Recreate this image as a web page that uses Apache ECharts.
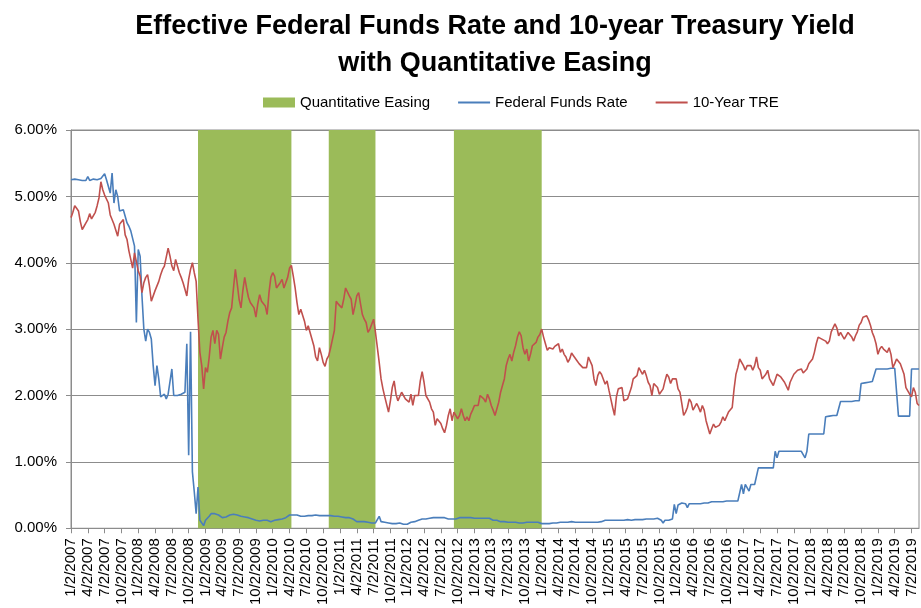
<!DOCTYPE html>
<html>
<head>
<meta charset="utf-8">
<script src="https://cdn.jsdelivr.net/npm/echarts@6/dist/echarts.min.js"></script>
<style>
html,body{margin:0;padding:0;background:#fff;overflow:hidden;}
#chart{width:921px;height:608px;}
</style>
</head>
<body>
<div id="chart"></div>
<script>
// Sample dates: the 2nd, 12th and 22nd of each month, 1/2/2007 .. 8/12/2019
const sampleDays = [2, 12, 22];
const firstYear = 2007, lastYear = 2019, lastMonth = 8, lastDay = 12;
const categories = [];
for (let y = firstYear; y <= lastYear; y++) {
  for (let m = 1; m <= 12; m++) {
    for (const d of sampleDays) {
      if (y === lastYear && (m > lastMonth || (m === lastMonth && d > lastDay))) continue;
      categories.push(m + '/' + d + '/' + y);
    }
  }
}

// Quantitative easing periods [start, end]
const qePeriods = [
  ['11/22/2008', '4/12/2010'],
  ['11/2/2010', '7/12/2011'],
  ['9/12/2012', '1/2/2014']
];

// 10-Year Treasury yield (%)
const tenYear = [
  // 2007
  4.68,4.76,4.86, 4.82,4.78,4.62, 4.50,4.55,4.60, 4.65,4.74,4.66, 4.64,4.76,4.86, 4.98,5.22,5.10,
  5.02,5.05,4.90, 4.72,4.75,4.58, 4.55,4.40,4.58, 4.60,4.65,4.42, 4.35,4.18,4.05, 3.92,4.15,4.12,
  // 2008
  3.88,3.80,3.55, 3.70,3.78,3.82, 3.65,3.42,3.40, 3.58,3.55,3.72, 3.82,3.90,3.95, 3.98,4.22,4.10,
  3.95,3.88,4.05, 4.02,3.85,3.78, 3.70,3.60,3.50, 3.75,3.90,4.00, 3.85,3.72,3.15, 2.65,2.45,2.10,
  // 2009
  2.42,2.35,2.58, 2.88,2.98,2.78, 2.98,2.92,2.55, 2.72,2.88,2.95, 3.12,3.25,3.32, 3.62,3.90,3.68,
  3.45,3.32,3.58, 3.78,3.62,3.48, 3.40,3.42,3.32, 3.18,3.38,3.52, 3.42,3.45,3.35, 3.22,3.55,3.78,
  // 2010
  3.85,3.80,3.62, 3.60,3.70,3.75, 3.62,3.70,3.78, 3.92,3.96,3.80, 3.62,3.40,3.22, 3.30,3.28,3.12,
  2.98,3.05,2.95, 2.92,2.75,2.58, 2.52,2.72,2.62, 2.50,2.44,2.55, 2.60,2.72,2.85, 2.98,3.42,3.38,
  // 2011
  3.35,3.32,3.45, 3.62,3.65,3.50, 3.45,3.22,3.35, 3.50,3.55,3.38, 3.22,3.15,3.10, 2.95,3.00,2.98,
  3.15,2.95,2.98, 2.50,2.25,2.10, 1.98,1.95,1.75, 1.92,2.12,2.22, 2.02,1.92,1.95, 2.05,2.00,1.95,
  // 2012
  1.92,1.90,2.02, 1.85,2.00,2.02, 2.00,2.22,2.36, 2.20,2.00,1.98, 1.90,1.80,1.75, 1.55,1.65,1.62,
  1.58,1.50,1.44, 1.55,1.70,1.80, 1.62,1.75,1.75, 1.65,1.70,1.80, 1.70,1.62,1.68, 1.62,1.72,1.78,
  // 2013
  1.85,1.88,1.85, 2.00,2.02,1.95, 1.90,2.02,1.95, 1.85,1.78,1.70, 1.68,1.90,2.05, 2.15,2.25,2.45,
  2.55,2.62,2.52, 2.65,2.75,2.88, 2.96,2.90,2.72, 2.62,2.70,2.52, 2.62,2.75,2.72, 2.80,2.88,2.92,
  // 2014
  3.00,2.88,2.78, 2.68,2.72,2.75, 2.70,2.74,2.72, 2.78,2.65,2.70, 2.62,2.58,2.50, 2.55,2.64,2.60,
  2.62,2.52,2.48, 2.45,2.42,2.40, 2.42,2.58,2.60, 2.45,2.25,2.15, 2.30,2.36,2.32, 2.30,2.17,2.22,
  // 2015
  2.08,1.95,1.82, 1.70,1.98,2.10, 2.08,2.12,1.92, 1.90,1.95,1.92, 2.12,2.25,2.22, 2.30,2.42,2.40,
  2.32,2.38,2.30, 2.20,2.15,2.00, 2.18,2.20,2.12, 2.02,2.05,2.10, 2.22,2.32,2.28, 2.18,2.25,2.25,
  // 2016
  2.25,2.10,2.05, 1.88,1.70,1.75, 1.82,1.95,1.90, 1.78,1.75,1.88, 1.82,1.75,1.85, 1.78,1.62,1.65,
  1.42,1.50,1.57, 1.52,1.55,1.55, 1.60,1.68,1.62, 1.60,1.75,1.75, 1.82,2.10,2.32, 2.42,2.55,2.55,
  // 2017
  2.45,2.38,2.45, 2.48,2.45,2.38, 2.45,2.58,2.42, 2.38,2.25,2.25, 2.32,2.38,2.25, 2.20,2.15,2.15,
  2.32,2.35,2.28, 2.28,2.20,2.20, 2.08,2.20,2.26, 2.32,2.35,2.38, 2.35,2.40,2.34, 2.36,2.40,2.48,
  // 2018
  2.46,2.55,2.65, 2.78,2.88,2.90, 2.85,2.84,2.82, 2.78,2.82,2.96, 2.95,3.08,3.02, 2.90,2.95,2.90,
  2.85,2.85,2.95, 2.98,2.88,2.82, 2.90,2.96,3.06, 3.10,3.18,3.17, 3.20,3.14,3.06, 2.95,2.88,2.78,
  // 2019
  2.62,2.70,2.74, 2.70,2.68,2.65, 2.72,2.62,2.42, 2.48,2.55,2.56, 2.48,2.40,2.32, 2.12,2.10,2.02,
  1.98,2.12,2.05, 1.88,1.85
];

// Effective Federal Funds Rate (%)
const fedFunds = [
  // 2007
  5.25,5.24,5.26, 5.26,5.25,5.28, 5.24,5.27,5.24, 5.30,5.24,5.25, 5.26,5.24,5.25, 5.24,5.27,5.26,
  5.34,5.25,5.26, 5.05,5.35,4.90, 5.10,5.00,4.78, 4.75,4.80,4.70, 4.60,4.55,4.48, 4.45,4.25,3.10,
  // 2008
  4.20,4.10,3.50, 3.00,2.82,3.00, 2.95,2.85,2.45, 2.15,2.45,2.25, 1.98,2.00,2.02, 1.95,2.02,2.00,
  2.40,2.00,1.98, 2.00,1.98,2.02, 2.00,2.05,2.78, 1.10,2.96,0.85, 0.55,0.22,0.62, 0.12,0.10,0.04,
  // 2009
  0.12,0.15,0.18, 0.22,0.24,0.22, 0.19,0.20,0.18, 0.16,0.18,0.17, 0.18,0.20,0.18, 0.21,0.24,0.20,
  0.17,0.18,0.16, 0.17,0.15,0.16, 0.15,0.14,0.13, 0.12,0.12,0.11, 0.12,0.12,0.13, 0.12,0.11,0.10,
  // 2010
  0.11,0.12,0.12, 0.13,0.13,0.14, 0.16,0.16,0.17, 0.20,0.20,0.20, 0.20,0.20,0.19, 0.18,0.19,0.18,
  0.18,0.19,0.20, 0.19,0.19,0.20, 0.20,0.19,0.20, 0.19,0.19,0.19, 0.19,0.19,0.20, 0.18,0.19,0.18,
  // 2011
  0.17,0.17,0.16, 0.16,0.15,0.16, 0.14,0.14,0.13, 0.10,0.10,0.10, 0.09,0.10,0.09, 0.09,0.09,0.08,
  0.07,0.08,0.10, 0.18,0.10,0.10, 0.09,0.09,0.08, 0.08,0.07,0.07, 0.07,0.08,0.08, 0.07,0.06,0.04,
  // 2012
  0.06,0.08,0.09, 0.10,0.10,0.11, 0.12,0.13,0.14, 0.14,0.14,0.15, 0.15,0.16,0.16, 0.16,0.16,0.17,
  0.16,0.15,0.16, 0.13,0.14,0.13, 0.14,0.15,0.14, 0.16,0.16,0.16, 0.16,0.17,0.16, 0.15,0.16,0.16,
  // 2013
  0.15,0.15,0.15, 0.15,0.15,0.16, 0.15,0.14,0.15, 0.15,0.12,0.14, 0.12,0.10,0.10, 0.09,0.10,0.09,
  0.09,0.09,0.09, 0.08,0.09,0.08, 0.08,0.08,0.08, 0.09,0.09,0.10, 0.09,0.09,0.09, 0.09,0.09,0.08,
  // 2014
  0.07,0.07,0.07, 0.07,0.07,0.06, 0.08,0.08,0.08, 0.09,0.09,0.09, 0.09,0.09,0.09, 0.10,0.10,0.10,
  0.09,0.09,0.09, 0.09,0.09,0.09, 0.09,0.09,0.09, 0.09,0.09,0.09, 0.09,0.09,0.10, 0.12,0.12,0.13,
  // 2015
  0.12,0.11,0.12, 0.12,0.12,0.12, 0.12,0.11,0.12, 0.13,0.13,0.13, 0.12,0.13,0.13, 0.13,0.13,0.14,
  0.13,0.14,0.14, 0.14,0.14,0.15, 0.14,0.14,0.15, 0.13,0.12,0.08, 0.12,0.12,0.12, 0.12,0.14,0.36,
  // 2016
  0.22,0.35,0.37, 0.38,0.37,0.37, 0.31,0.37,0.37, 0.37,0.37,0.37, 0.37,0.37,0.37, 0.38,0.38,0.38,
  0.40,0.40,0.40, 0.40,0.40,0.40, 0.40,0.40,0.40, 0.41,0.41,0.41, 0.41,0.41,0.41, 0.41,0.41,0.66,
  // 2017
  0.52,0.66,0.66, 0.56,0.66,0.66, 0.66,0.66,0.91, 0.91,0.91,0.91, 0.91,0.91,0.91, 0.91,0.91,1.16,
  1.06,1.16,1.16, 1.16,1.16,1.16, 1.16,1.16,1.16, 1.16,1.16,1.16, 1.16,1.16,1.16, 1.06,1.16,1.42,
  // 2018
  1.42,1.42,1.42, 1.42,1.42,1.42, 1.42,1.42,1.68, 1.69,1.69,1.69, 1.70,1.70,1.70, 1.70,1.91,1.91,
  1.91,1.91,1.91, 1.91,1.91,1.91, 1.92,1.92,1.92, 2.18,2.18,2.19, 2.20,2.20,2.20, 2.21,2.20,2.40,
  // 2019
  2.40,2.40,2.40, 2.40,2.40,2.40, 2.41,2.41,2.41, 2.41,2.41,1.69, 1.69,1.69,1.69, 1.69,1.69,1.69,
  2.40,2.40,2.40, 2.40,2.40
];

const yTicks = [0, 1, 2, 3, 4, 5, 6];
const titleLines = ['Effective Federal Funds Rate and 10-year Treasury Yield', 'with Quantitative Easing'];
const seriesNames = ['Quantitative Easing', 'Federal Funds Rate', '10-Year TRE'];

const chart = echarts.init(document.getElementById('chart'));
const axisGray = '#8c8c8c';
const fontFam = '"Liberation Sans", Arial, sans-serif';

chart.setOption({
  animation: false,
  backgroundColor: '#ffffff',
  graphic: [
    { type: 'text', x: 495, y: 27, silent: true,
      style: { text: titleLines[0], fill: '#000', font: 'bold 27px ' + fontFam, textAlign: 'center', textVerticalAlign: 'middle' } },
    { type: 'text', x: 495, y: 64, silent: true,
      style: { text: titleLines[1], fill: '#000', font: 'bold 27px ' + fontFam, textAlign: 'center', textVerticalAlign: 'middle' } }
  ],
  legend: {
    left: 263, top: 95, padding: 0,
    itemWidth: 32, itemHeight: 10, itemGap: 27,
    textStyle: { fontFamily: fontFam, fontSize: 15, color: '#000' },
    data: [
      { name: seriesNames[0], icon: 'rect' },
      { name: seriesNames[1], itemStyle: { opacity: 0 } },
      { name: seriesNames[2], itemStyle: { opacity: 0 } }
    ]
  },
  grid: { left: 71, right: 2, top: 130, bottom: 74, containLabel: false,
          show: true, borderColor: axisGray, borderWidth: 1 },
  xAxis: {
    type: 'category',
    data: categories,
    boundaryGap: false,
    axisLine: { lineStyle: { color: axisGray, width: 1 } },
    axisTick: { show: true, interval: 8, length: 5, lineStyle: { color: axisGray } },
    axisLabel: { interval: 8, rotate: 90, margin: 10, color: '#000',
                 fontFamily: fontFam, fontSize: 15 },
    splitLine: { show: false }
  },
  yAxis: {
    type: 'value',
    min: yTicks[0], max: yTicks[yTicks.length - 1], interval: 1,
    axisLine: { show: true, lineStyle: { color: axisGray, width: 1 } },
    axisTick: { show: true, length: 5, lineStyle: { color: axisGray } },
    axisLabel: { margin: 14, color: '#000', fontFamily: fontFam, fontSize: 15,
                 formatter: v => v.toFixed(2) + '%' },
    splitLine: { show: true, lineStyle: { color: axisGray, width: 1 } }
  },
  series: [
    {
      name: seriesNames[0], type: 'line', data: [], symbol: 'none',
      color: '#9BBB59', itemStyle: { color: '#9BBB59' }, lineStyle: { color: '#9BBB59' },
      markArea: {
        silent: true,
        itemStyle: { color: '#9BBB59', opacity: 1 },
        data: qePeriods.map(p => [{ xAxis: p[0] }, { xAxis: p[1] }])
      },
      z: 1
    },
    {
      name: seriesNames[1], type: 'line', data: fedFunds, symbol: 'none',
      color: '#4A7EBB', lineStyle: { color: '#4A7EBB', width: 1.6 }, z: 3
    },
    {
      name: seriesNames[2], type: 'line', data: tenYear, symbol: 'none',
      color: '#C0504D', lineStyle: { color: '#C0504D', width: 1.6 }, z: 4
    }
  ]
});
</script>
</body>
</html>
